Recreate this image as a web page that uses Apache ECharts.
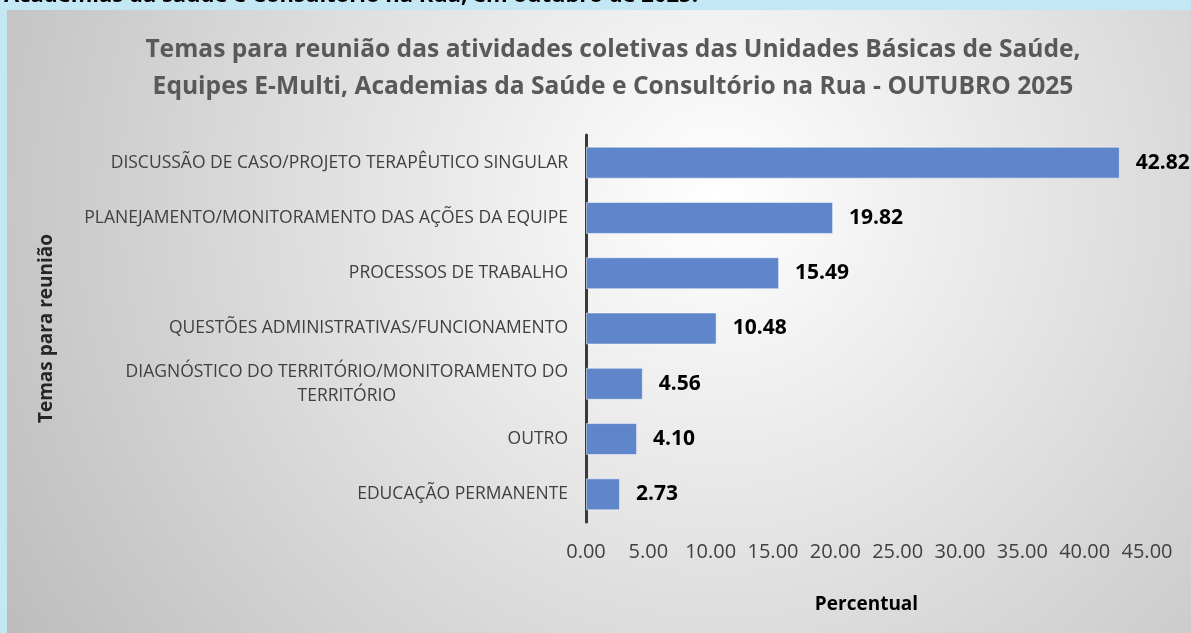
<!DOCTYPE html>
<html lang="pt">

<head>
    <meta charset="UTF-8">
    <title>Temas para reunião - OUTUBRO 2025</title>
    <script src="https://cdn.jsdelivr.net/npm/echarts@6/dist/echarts.min.js"></script>
    <style>
        html, body {
            margin: 0;
            padding: 0;
            background: #c3e7f4;
        }
        #chart {
            width: 1191px;
            height: 633px;
        }
    </style>
</head>

<body>
    <div id="chart"></div>

    <script>
        // categorias (de cima para baixo) e percentuais
        var categorias = [
            'DISCUSSÃO DE CASO/PROJETO TERAPÊUTICO SINGULAR',
            'PLANEJAMENTO/MONITORAMENTO DAS AÇÕES DA EQUIPE',
            'PROCESSOS DE TRABALHO',
            'QUESTÕES ADMINISTRATIVAS/FUNCIONAMENTO',
            'DIAGNÓSTICO DO TERRITÓRIO/MONITORAMENTO DO\nTERRITÓRIO',
            'OUTRO',
            'EDUCAÇÃO PERMANENTE'
        ];
        var percentuais = [42.82, 19.82, 15.49, 10.48, 4.56, 4.10, 2.73];
        var eixoMin = 0;
        var eixoMax = 45;
        var eixoPasso = 5;

        var chart = echarts.init(document.getElementById('chart'));
        var fonte = '"Open Sans", "Noto Sans", sans-serif';

        var option = {
            backgroundColor: '#c3e7f4',
            animation: false,
            graphic: [
                {
                    type: 'rect',
                    z: -10,
                    shape: { x: 7, y: 10, width: 1184, height: 623 },
                    style: {
                        fill: {
                            type: 'radial', x: 0.6, y: 0.3, r: 1.35,
                            colorStops: [
                                { offset: 0, color: '#ffffff' },
                                { offset: 1, color: '#bcbcbc' }
                            ]
                        }
                    }
                },
                {
                    // linha de texto do documento, cortada no topo
                    type: 'text',
                    left: 4,
                    top: -15,
                    z: -20,
                    style: {
                        text: 'Academias da saúde e Consultório na Rua, em outubro de 2025.',
                        font: 'bold 22px ' + fonte,
                        fill: '#000000'
                    }
                }
            ],
            title: {
                text: 'Temas para reunião das atividades coletivas das Unidades Básicas de Saúde,\nEquipes E-Multi, Academias da Saúde e Consultório na Rua - OUTUBRO 2025',
                left: 608,
                textAlign: 'center',
                top: 26,
                textStyle: {
                    fontFamily: fonte,
                    fontSize: 24.6,
                    fontWeight: 'bold',
                    color: '#595959',
                    lineHeight: 37
                }
            },
            grid: {
                left: 586,
                right: 44,
                top: 135,
                bottom: 111,
                containLabel: false
            },
            xAxis: {
                type: 'value',
                min: eixoMin,
                max: eixoMax,
                interval: eixoPasso,
                name: 'Percentual',
                nameLocation: 'middle',
                nameGap: 73,
                nameTextStyle: {
                    fontFamily: fonte,
                    fontSize: 19,
                    fontWeight: 'bold',
                    color: '#000000'
                },
                axisLine: { show: false },
                axisTick: { show: false },
                splitLine: { show: false },
                axisLabel: {
                    margin: 20,
                    fontFamily: fonte,
                    fontSize: 20,
                    color: '#404040',
                    formatter: function (v) { return v.toFixed(2); }
                }
            },
            yAxis: {
                type: 'category',
                inverse: true,
                data: categorias,
                name: 'Temas para reunião',
                nameLocation: 'middle',
                nameGap: 530,
                nameRotate: 90,
                nameTextStyle: {
                    fontFamily: fonte,
                    fontSize: 19,
                    fontWeight: 'bold',
                    color: '#262626'
                },
                axisLine: { show: true, lineStyle: { color: '#3a3a3a', width: 3 } },
                axisTick: { show: false },
                axisLabel: {
                    margin: 18,
                    fontFamily: fonte,
                    fontSize: 17.5,
                    color: '#404040',
                    lineHeight: 24,
                    formatter: function (v) {
                        return v.split('\n').map(function (l) { return '{c|' + l + '}'; }).join('\n');
                    },
                    rich: {
                        c: {
                            align: 'center',
                            fontFamily: fonte,
                            fontSize: 17.5,
                            color: '#404040',
                            lineHeight: 24
                        }
                    }
                }
            },
            series: [{
                type: 'bar',
                data: percentuais,
                barWidth: 32,
                itemStyle: {
                    color: '#5f86cb',
                    borderColor: 'rgba(255,255,255,0.5)',
                    borderWidth: 1
                },
                label: {
                    show: true,
                    position: 'right',
                    distance: 16,
                    fontFamily: fonte,
                    fontSize: 21,
                    fontWeight: 'bold',
                    color: '#000000',
                    formatter: function (p) { return p.value.toFixed(2); }
                }
            }]
        };

        chart.setOption(option);
    </script>
</body>

</html>
